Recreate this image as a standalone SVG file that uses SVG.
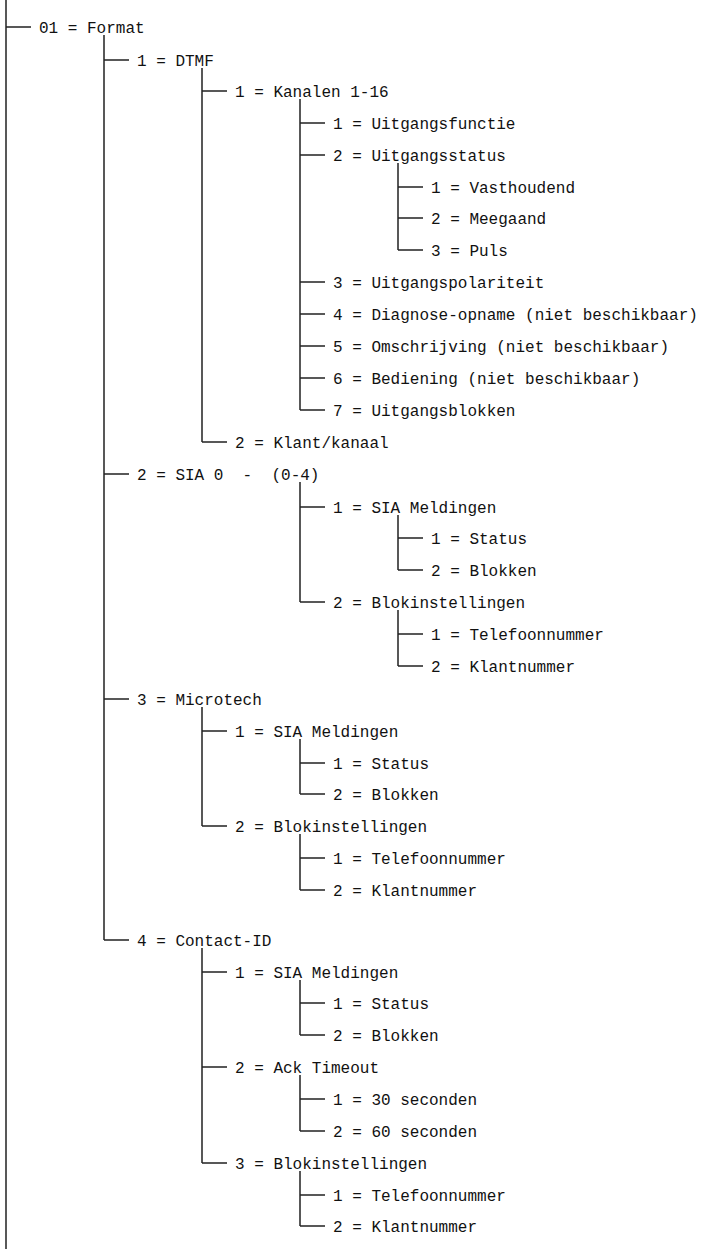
<svg xmlns="http://www.w3.org/2000/svg" width="701" height="1249" viewBox="0 0 701 1249">
  <style>
    .t { font-family: "Liberation Mono", "DejaVu Sans Mono", monospace; font-size: 16px; fill: #111; white-space: pre; }
    .c { stroke: #222; stroke-width: 1.5; fill: none; }
  </style>
  <rect width="701" height="1249" fill="#fff"/>

  <!-- tree connectors: one vertical trunk per parent plus a short branch per child -->
  <g id="connectors" class="c">
    <!-- root trunk -->
    <path d="M6 0V1249 M6 27H31"/>
    <!-- 01 = Format -->
    <path d="M104 35V940 M104 60H129 M104 474H129 M104 699H129 M104 940H129"/>
    <!-- 1 = DTMF -->
    <path d="M202 68V442 M202 91H227 M202 442H227"/>
    <!-- 1 = Kanalen 1-16 -->
    <path d="M300 99V410 M300 123H325 M300 155H325 M300 282H325 M300 314H325 M300 346H325 M300 378H325 M300 410H325"/>
    <!-- 2 = Uitgangsstatus -->
    <path d="M398 163V250 M398 187H423 M398 218H423 M398 250H423"/>
    <!-- 2 = SIA 0 -->
    <path d="M300 482V602 M300 507H325 M300 602H325"/>
    <path d="M398 515V570 M398 538H423 M398 570H423"/>
    <path d="M398 610V666 M398 634H423 M398 666H423"/>
    <!-- 3 = Microtech -->
    <path d="M202 707V826 M202 731H227 M202 826H227"/>
    <path d="M300 739V794 M300 763H325 M300 794H325"/>
    <path d="M300 834V890 M300 858H325 M300 890H325"/>
    <!-- 4 = Contact-ID -->
    <path d="M202 948V1163 M202 972H227 M202 1067H227 M202 1163H227"/>
    <path d="M300 980V1035 M300 1003H325 M300 1035H325"/>
    <path d="M300 1075V1131 M300 1099H325 M300 1131H325"/>
    <path d="M300 1171V1226 M300 1195H325 M300 1226H325"/>
  </g>

  <g id="format"><text class="t" x="39" y="32.5">01 = Format</text></g>

  <g id="dtmf"><text class="t" x="137" y="65.5">1 = DTMF</text></g>
  <g id="kanalen"><text class="t" x="235" y="96.5">1 = Kanalen 1-16</text></g>
  <g id="uitgangsfunctie"><text class="t" x="333" y="128.5">1 = Uitgangsfunctie</text></g>
  <g id="uitgangsstatus"><text class="t" x="333" y="160.5">2 = Uitgangsstatus</text></g>
  <g id="vasthoudend"><text class="t" x="431" y="192.5">1 = Vasthoudend</text></g>
  <g id="meegaand"><text class="t" x="431" y="223.5">2 = Meegaand</text></g>
  <g id="puls"><text class="t" x="431" y="255.5">3 = Puls</text></g>
  <g id="uitgangspolariteit"><text class="t" x="333" y="287.5">3 = Uitgangspolariteit</text></g>
  <g id="diagnose"><text class="t" x="333" y="319.5">4 = Diagnose-opname (niet beschikbaar)</text></g>
  <g id="omschrijving"><text class="t" x="333" y="351.5">5 = Omschrijving (niet beschikbaar)</text></g>
  <g id="bediening"><text class="t" x="333" y="383.5">6 = Bediening (niet beschikbaar)</text></g>
  <g id="uitgangsblokken"><text class="t" x="333" y="415.5">7 = Uitgangsblokken</text></g>
  <g id="klant-kanaal"><text class="t" x="235" y="447.5">2 = Klant/kanaal</text></g>

  <g id="sia0"><text class="t" x="137" y="479.5">2 = SIA 0  -  (0-4)</text></g>
  <g id="sia0-meldingen"><text class="t" x="333" y="512.5">1 = SIA Meldingen</text></g>
  <g id="sia0-status"><text class="t" x="431" y="543.5">1 = Status</text></g>
  <g id="sia0-blokken"><text class="t" x="431" y="575.5">2 = Blokken</text></g>
  <g id="sia0-blokinstellingen"><text class="t" x="333" y="607.5">2 = Blokinstellingen</text></g>
  <g id="sia0-telefoon"><text class="t" x="431" y="639.5">1 = Telefoonnummer</text></g>
  <g id="sia0-klant"><text class="t" x="431" y="671.5">2 = Klantnummer</text></g>

  <g id="microtech"><text class="t" x="137" y="704.5">3 = Microtech</text></g>
  <g id="micro-meldingen"><text class="t" x="235" y="736.5">1 = SIA Meldingen</text></g>
  <g id="micro-status"><text class="t" x="333" y="768.5">1 = Status</text></g>
  <g id="micro-blokken"><text class="t" x="333" y="799.5">2 = Blokken</text></g>
  <g id="micro-blokinstellingen"><text class="t" x="235" y="831.5">2 = Blokinstellingen</text></g>
  <g id="micro-telefoon"><text class="t" x="333" y="863.5">1 = Telefoonnummer</text></g>
  <g id="micro-klant"><text class="t" x="333" y="895.5">2 = Klantnummer</text></g>

  <g id="contact-id"><text class="t" x="137" y="945.5">4 = Contact-ID</text></g>
  <g id="cid-meldingen"><text class="t" x="235" y="977.5">1 = SIA Meldingen</text></g>
  <g id="cid-status"><text class="t" x="333" y="1008.5">1 = Status</text></g>
  <g id="cid-blokken"><text class="t" x="333" y="1040.5">2 = Blokken</text></g>
  <g id="cid-ack"><text class="t" x="235" y="1072.5">2 = Ack Timeout</text></g>
  <g id="cid-30"><text class="t" x="333" y="1104.5">1 = 30 seconden</text></g>
  <g id="cid-60"><text class="t" x="333" y="1136.5">2 = 60 seconden</text></g>
  <g id="cid-blokinstellingen"><text class="t" x="235" y="1168.5">3 = Blokinstellingen</text></g>
  <g id="cid-telefoon"><text class="t" x="333" y="1200.5">1 = Telefoonnummer</text></g>
  <g id="cid-klant"><text class="t" x="333" y="1231.5">2 = Klantnummer</text></g>
</svg>
